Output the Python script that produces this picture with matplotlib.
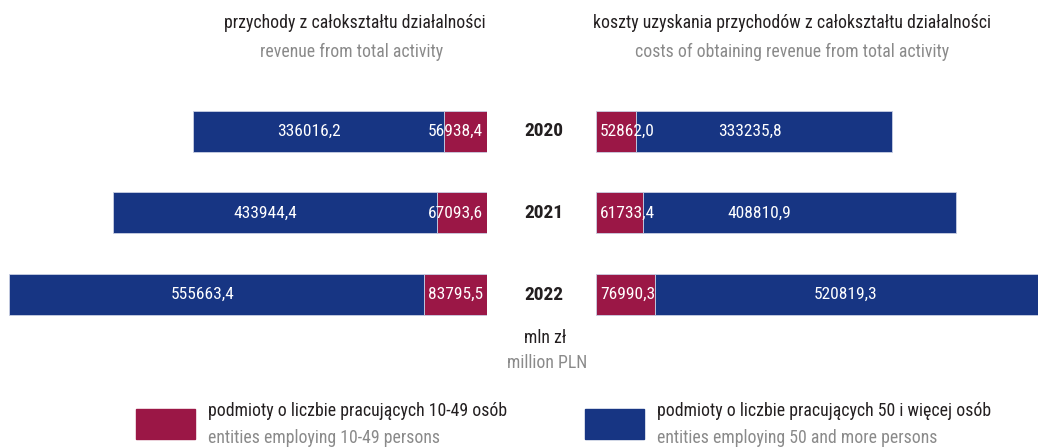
import matplotlib
matplotlib.use("Agg")
import matplotlib.pyplot as plt
from matplotlib import font_manager as fm

# ---- data ----
years = ["2020", "2021", "2022"]
rev_small = [56938.4, 67093.6, 83795.5]       # 10-49 persons
rev_large = [336016.2, 433944.4, 555663.4]    # 50+ persons
cost_small = [52862.0, 61733.4, 76990.3]
cost_large = [333235.8, 408810.9, 520819.3]

title_left_pl = "przychody z całokształtu działalności"
title_left_en = "revenue from total activity"
title_right_pl = "koszty uzyskania przychodów z całokształtu działalności"
title_right_en = "costs of obtaining revenue from total activity"
unit_pl = "mln zł"
unit_en = "million PLN"
leg_small_pl = "podmioty o liczbie pracujących 10-49 osób"
leg_small_en = "entities employing 10-49 persons"
leg_large_pl = "podmioty o liczbie pracujących 50 i więcej osób"
leg_large_en = "entities employing 50 and more persons"

def fmt(v):
    return f"{v:.1f}".replace(".", ",")

# ---- font ----
entries = fm.fontManager.ttflist
names = {f.name for f in entries}
font_kw = {}
chosen = "DejaVu Sans"
for cand in ["Liberation Sans Narrow", "Roboto Condensed", "Open Sans Condensed",
             "Noto Sans Condensed", "DejaVu Sans Condensed"]:
    if cand in names:
        chosen = cand
        break
else:
    for f in entries:
        if f.name in ("Noto Sans", "Open Sans", "Roboto") and f.stretch in ("condensed", "semi-condensed", 625, 750):
            chosen = f.name
            font_kw = {"fontstretch": "condensed"}
            break
plt.rcParams["font.family"] = [chosen, "DejaVu Sans"]

BLUE = "#173583"
RED = "#9b1746"
EDGE = "#c9cfe3"
DARK = "#231f20"
GRAY = "#8a8a8a"

W, H = 1038, 448
fig = plt.figure(figsize=(W / 100, H / 100), dpi=100)

def fx(px):
    return px / W

def fy(py):
    return 1 - py / H

top_px, bot_px = 90, 336
ax_b = fy(bot_px)
ax_h = (bot_px - top_px) / H
ylim = (2.509, -0.509)
bh = 0.503
ys = list(range(len(years)))

# left axes
axL = fig.add_axes([0, ax_b, fx(487), ax_h])
axL.barh(ys, rev_small, height=bh, color=RED, edgecolor=EDGE, linewidth=0.6)
axL.barh(ys, rev_large, left=rev_small, height=bh, color=BLUE, edgecolor=EDGE, linewidth=0.6)
axL.set_xlim(487 / 0.000747, 0)
axL.set_ylim(*ylim)
axL.axis("off")

# right axes
axR = fig.add_axes([fx(596), ax_b, fx(W - 596), ax_h])
axR.barh(ys, cost_small, height=bh, color=RED, edgecolor=EDGE, linewidth=0.6)
axR.barh(ys, cost_large, left=cost_small, height=bh, color=BLUE, edgecolor=EDGE, linewidth=0.6)
axR.set_xlim(0, (W - 596) / 0.000766)
axR.set_ylim(*ylim)
axR.axis("off")

lab_fs = 12.5
left_frac = [0.538, 0.528, 0.535]
right_frac = [0.443, 0.37, 0.477]
for i in ys:
    axL.annotate(fmt(rev_small[i]), (0, i), xytext=(-3, 0), textcoords="offset points",
                 ha="right", va="center", color="white", fontsize=lab_fs, **font_kw)
    axR.annotate(fmt(cost_small[i]), (0, i), xytext=(3, 0), textcoords="offset points",
                 ha="left", va="center", color="white", fontsize=lab_fs, **font_kw)
    axL.text(rev_small[i] + rev_large[i] * left_frac[i], i, fmt(rev_large[i]),
             ha="center", va="center", color="white", fontsize=lab_fs, **font_kw)
    axR.text(cost_small[i] + cost_large[i] * right_frac[i], i, fmt(cost_large[i]),
             ha="center", va="center", color="white", fontsize=lab_fs, **font_kw)
    fig.text(fx(544), fy(131.5 + 81.5 * i), years[i], ha="center", va="center",
             color=DARK, fontsize=14, fontweight="bold", **font_kw)

tfs = 12.8
fig.text(fx(355), fy(23), title_left_pl, ha="center", va="center", color=DARK, fontsize=tfs, **font_kw)
fig.text(fx(352), fy(52), title_left_en, ha="center", va="center", color=GRAY, fontsize=tfs, **font_kw)
fig.text(fx(792), fy(23), title_right_pl, ha="center", va="center", color=DARK, fontsize=tfs, **font_kw)
fig.text(fx(792), fy(52), title_right_en, ha="center", va="center", color=GRAY, fontsize=tfs, **font_kw)
fig.text(fx(545), fy(338), unit_pl, ha="center", va="center", color=DARK, fontsize=tfs, **font_kw)
fig.text(fx(547), fy(363), unit_en, ha="center", va="center", color=GRAY, fontsize=tfs, **font_kw)

# legend
fig.patches.append(plt.Rectangle((fx(136), fy(439)), fx(59), (439 - 409) / H,
                                 transform=fig.transFigure, color=RED, figure=fig))
fig.patches.append(plt.Rectangle((fx(585), fy(439)), fx(59), (439 - 409) / H,
                                 transform=fig.transFigure, color=BLUE, figure=fig))
fig.text(fx(208), fy(411), leg_small_pl, ha="left", va="center", color=DARK, fontsize=tfs, **font_kw)
fig.text(fx(208), fy(438), leg_small_en, ha="left", va="center", color=GRAY, fontsize=tfs, **font_kw)
fig.text(fx(657), fy(411), leg_large_pl, ha="left", va="center", color=DARK, fontsize=tfs, **font_kw)
fig.text(fx(657), fy(438), leg_large_en, ha="left", va="center", color=GRAY, fontsize=tfs, **font_kw)

fig.savefig("out.png", dpi=100)
